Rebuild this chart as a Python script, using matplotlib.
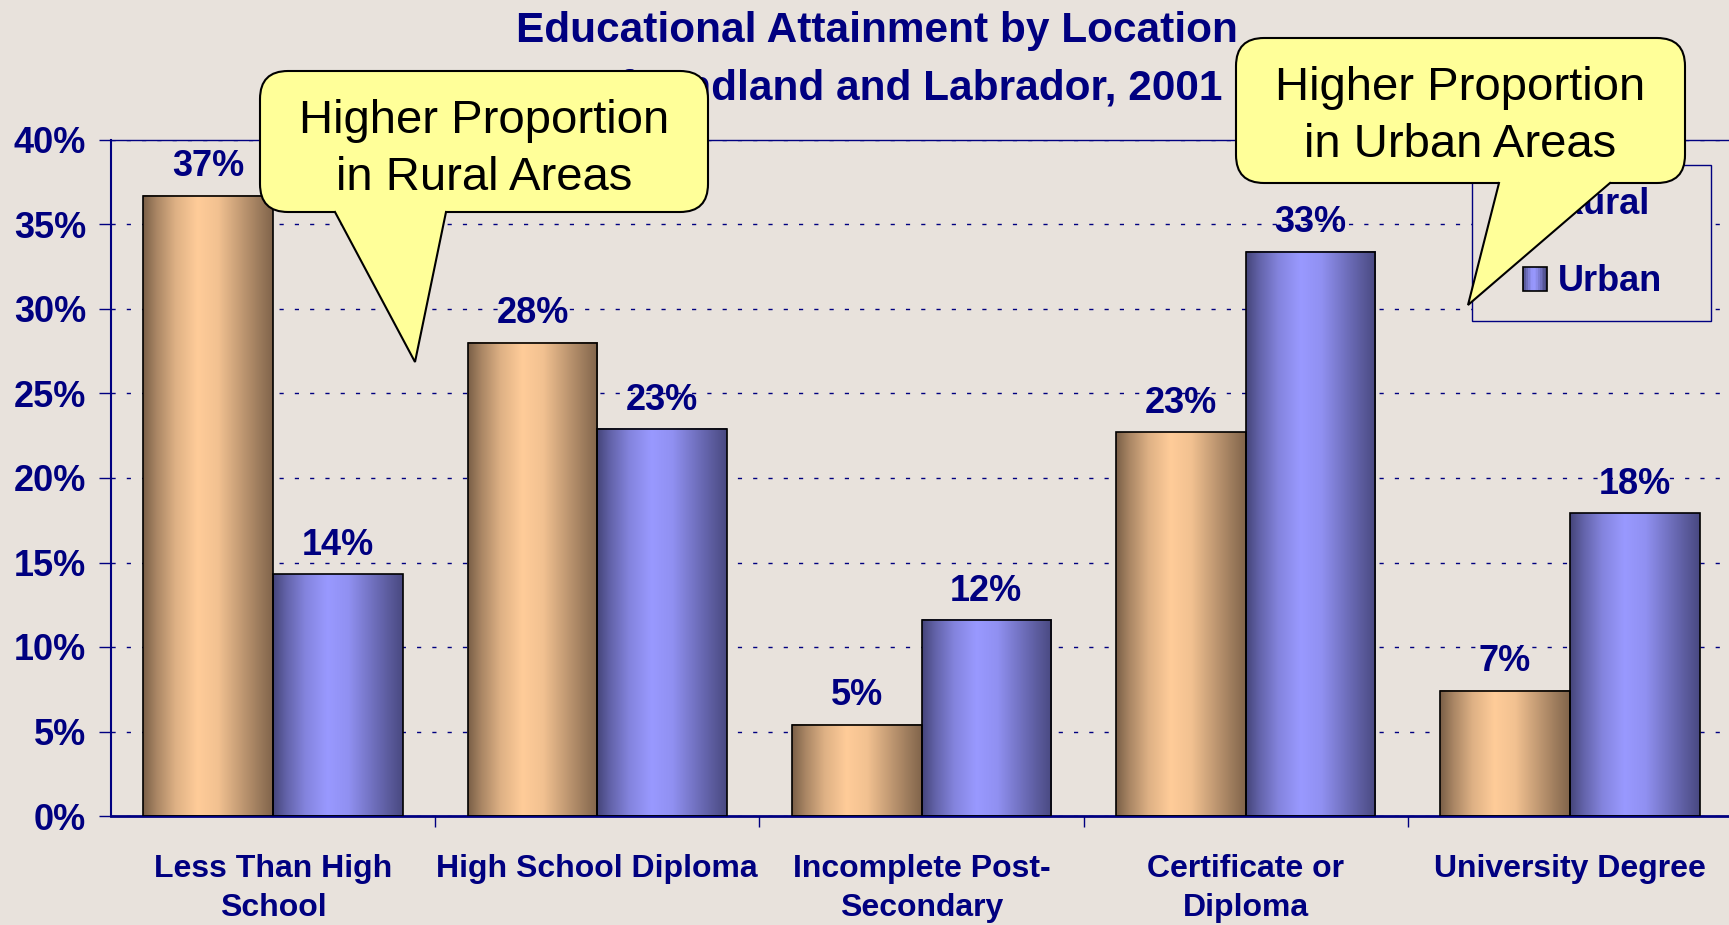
import numpy as np
import matplotlib
matplotlib.use("Agg")
import matplotlib.pyplot as plt
from matplotlib.colors import to_rgb
from matplotlib.patches import FancyBboxPatch, Polygon, Rectangle
from matplotlib.legend_handler import HandlerBase

# ---- data ----
categories = ["Less Than High\nSchool", "High School Diploma", "Incomplete Post-\nSecondary",
              "Certificate or\nDiploma", "University Degree"]
rural = [36.7, 28.0, 5.4, 22.7, 7.4]
urban = [14.3, 22.9, 11.6, 33.4, 17.9]
series_names = ["Rural", "Urban"]
yticks = [0, 5, 10, 15, 20, 25, 30, 35, 40]
title_lines = ["Educational Attainment by Location", "Newfoundland and Labrador, 2001"]
callout_rural = ["Higher Proportion", "in Rural Areas"]
callout_urban = ["Higher Proportion", "in Urban Areas"]

# ---- style ----
W, H = 1729, 925
BG = "#e8e2dc"
NAVY = "#000080"
YELLOW = "#ffff99"
RURAL_DARK, RURAL_LIGHT = "#7a5f47", "#ffcc99"
URBAN_DARK, URBAN_LIGHT = "#45457a", "#9999ff"

plt.rcParams["font.family"] = ["Liberation Sans", "DejaVu Sans"]


def gradient_strip(dark, light, n=200):
    # horizontal "cylinder" shading: dark edges, light just left of centre
    t = np.linspace(0, 1, n)
    p = np.interp(t, [0, 0.1, 0.25, 0.42, 0.58, 0.8, 1.0],
                  [0.0, 0.35, 0.75, 1.0, 0.9, 0.45, 0.05])
    d, l = np.array(to_rgb(dark)), np.array(to_rgb(light))
    return (d + (l - d) * p[:, None])[None, :, :]


class HandlerGradient(HandlerBase):
    def __init__(self, dark, light):
        super().__init__()
        self.dark, self.light = dark, light

    def create_artists(self, legend, orig_handle, xdescent, ydescent,
                       width, height, fontsize, trans):
        size = height
        x0 = -xdescent + width - size
        y0 = -ydescent
        strip = gradient_strip(self.dark, self.light, n=14)[0]
        n = len(strip)
        arts = [Rectangle((x0 + i * size / n, y0), size / n * 1.05, size,
                          facecolor=c, edgecolor="none", transform=trans)
                for i, c in enumerate(strip)]
        arts.append(Rectangle((x0, y0), size, size, facecolor="none",
                              edgecolor="black", lw=1.2, transform=trans))
        return arts


fig = plt.figure(figsize=(W / 100, H / 100), dpi=100, facecolor=BG)
ax = fig.add_axes([111 / W, (H - 816) / H, (1732 - 111) / W, (816 - 140) / H])
ax.set_facecolor(BG)

x = np.arange(len(categories))
bw = 0.4
bars_r = ax.bar(x - bw / 2, rural, bw, facecolor="none", edgecolor="black", lw=1.2, zorder=3)
bars_u = ax.bar(x + bw / 2, urban, bw, facecolor="none", edgecolor="black", lw=1.2, zorder=3)

for bars, dark, light in [(bars_r, RURAL_DARK, RURAL_LIGHT), (bars_u, URBAN_DARK, URBAN_LIGHT)]:
    img = gradient_strip(dark, light)
    for b in bars:
        ax.imshow(img, extent=[b.get_x(), b.get_x() + b.get_width(), 0, b.get_height()],
                  aspect="auto", zorder=2, interpolation="bilinear")
        ax.annotate(f"{b.get_height():.0f}%", (b.get_x() + b.get_width() / 2, b.get_height()),
                    xytext=(0, 14), textcoords="offset points", ha="center", va="baseline",
                    fontsize=26, fontweight="bold", color=NAVY, zorder=4)

ax.set_xlim(-0.5, len(categories) - 0.5)
ax.set_ylim(0, 40)

ax.set_yticks(yticks)
ax.set_yticklabels([f"{v}%" for v in yticks], fontsize=26, fontweight="bold", color=NAVY)
ax.tick_params(axis="y", length=9, width=1, color=NAVY, pad=9)

ax.set_xticks(x)
ax.set_xticklabels(categories, fontsize=23, fontweight="bold", color=NAVY, linespacing=1.39)
ax.tick_params(axis="x", which="major", length=0, pad=27.5)
ax.set_xticks(np.arange(len(categories) - 1) + 0.5, minor=True)
ax.tick_params(axis="x", which="minor", length=8, width=1, color=NAVY)

ax.yaxis.grid(True, color=NAVY, lw=1, linestyle=(0, (3, 8)))
ax.set_axisbelow(True)

ax.spines["right"].set_visible(False)
ax.spines["left"].set_color(NAVY)
ax.spines["left"].set_linewidth(1.5)
ax.spines["bottom"].set_color(NAVY)
ax.spines["bottom"].set_linewidth(2)
ax.spines["top"].set_color(NAVY)
ax.spines["top"].set_linewidth(1)

proxy_r, proxy_u = Rectangle((0, 0), 1, 1), Rectangle((0, 0), 1, 1)
leg = ax.legend([proxy_r, proxy_u], series_names,
                handler_map={proxy_r: HandlerGradient(RURAL_DARK, RURAL_LIGHT),
                             proxy_u: HandlerGradient(URBAN_DARK, URBAN_LIGHT)},
                loc="upper left", mode="expand",
                bbox_to_anchor=(1472 / W, 1 - 321 / H, (1711 - 1472) / W, (321 - 165) / H),
                bbox_transform=fig.transFigure, borderaxespad=0, borderpad=0.6,
                labelspacing=1.18, handlelength=1.47, handleheight=0.65, handletextpad=0.3,
                fancybox=False, facecolor=BG, edgecolor=NAVY, framealpha=1,
                prop={"size": 26, "weight": "bold"})
for t in leg.get_texts():
    t.set_color(NAVY)
leg.get_frame().set_linewidth(1.0)
leg.set_zorder(5)

# title (two lines, behind the callouts)
fig.text(877 / W, 1 - 42 / H, title_lines[0], ha="center", va="baseline",
         fontsize=30.5, fontweight="bold", color=NAVY)
fig.text(877 / W, 1 - 100 / H, title_lines[1], ha="center", va="baseline",
         fontsize=30.5, fontweight="bold", color=NAVY)

# ---- callouts on a pixel overlay ----
ov = fig.add_axes([0, 0, 1, 1], zorder=10)
ov.set_xlim(0, W)
ov.set_ylim(H, 0)
ov.axis("off")
ov.patch.set_visible(False)


def callout(box, tail, lines, baselines, cx):
    x0, y0, x1, y1 = box
    ov.add_patch(FancyBboxPatch((x0, y0), x1 - x0, y1 - y0,
                                boxstyle="round,pad=0,rounding_size=28",
                                fc=YELLOW, ec="black", lw=1.5))
    bl, br, tip = tail
    ov.add_patch(Polygon([(bl, y1 - 5), (br, y1 - 5), (br, y1), tip, (bl, y1)],
                         closed=True, fc=YELLOW, ec="none"))
    ov.plot([bl, tip[0], br], [y1, tip[1], y1], color="black", lw=1.5,
            solid_joinstyle="miter")
    for line, yb in zip(lines, baselines):
        ov.text(cx, yb, line, ha="center", va="baseline", fontsize=34, color="black")


callout((260, 71, 708, 212), (335, 446, (415, 362)), callout_rural, [133, 190], 484)
callout((1236, 38, 1685, 183), (1499, 1610, (1468, 305)), callout_urban, [100, 157], 1460)

fig.savefig("out.png", dpi=100, facecolor=BG)
